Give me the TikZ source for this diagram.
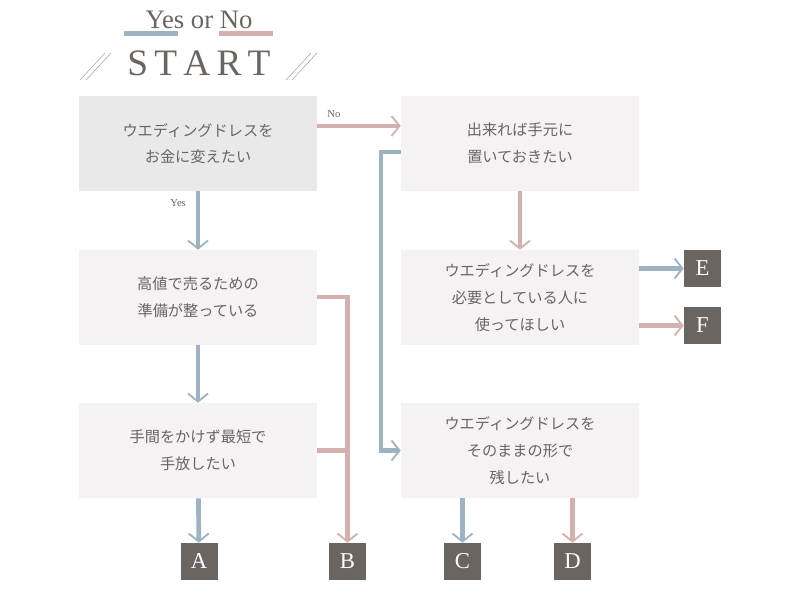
\documentclass[tikz,border=0pt]{standalone}
\usepackage{fontspec}
\setmainfont{Liberation Serif}
\newfontfamily\jpfont{Noto Sans CJK JP}[Scale=0.95]
\usetikzlibrary{arrows.meta}
\definecolor{qblue}{HTML}{9EB3C2}
\definecolor{qpink}{HTML}{D4B0AE}
\definecolor{qtext}{HTML}{6B6561}
\definecolor{qlight}{HTML}{F4F2F2}
\definecolor{qgrey}{HTML}{E9E9E9}
\begin{document}
\begin{tikzpicture}[x=0.75pt,y=-0.75pt,
  qbox/.style={fill=qlight, minimum width=178.5pt, minimum height=71.25pt, align=center, text=qtext, font=\jpfont\fontsize{12}{20}\selectfont},
  ans/.style={fill=qtext, text=white, minimum size=27.75pt, inner sep=0pt, font=\fontsize{17}{17}\selectfont},
  yesline/.style={draw=qblue, line width=3.5pt, -{Straight Barb[line width=1.4pt, length=6pt, width=15pt]}},
  noline/.style={draw=qpink, line width=3.5pt, -{Straight Barb[line width=1.4pt, length=6pt, width=15pt]}},
  lbl/.style={text=qtext, font=\footnotesize}]
\useasboundingbox (0,0) rectangle (800,600);

% title
\fill[qblue] (124,31) rectangle (178,36);
\fill[qpink] (219,31) rectangle (273,36);
\node[text=qtext, font=\fontsize{20}{20}\selectfont] (title) at (199,20) {Yes or No};
\node[text=qtext, font=\fontsize{28}{28}\selectfont] (start) at (199,63) {S\,T\,A\,R\,T};
\draw[qtext!60, thin] (80,80) -- (105,53) (86,80) -- (111,53);
\draw[qtext!60, thin] (286,80) -- (311,53) (292,80) -- (317,53);

% questions
\node[qbox, fill=qgrey] (q1) at (198,143.5) {ウエディングドレスを\\お金に変えたい};
\node[qbox] (q2) at (198,297.5) {高値で売るための\\準備が整っている};
\node[qbox] (q3) at (198,450.5) {手間をかけず最短で\\手放したい};
\node[qbox] (r1) at (520,143.5) {出来れば手元に\\置いておきたい};
\node[qbox] (r2) at (520,297.5) {ウエディングドレスを\\必要としている人に\\使ってほしい};
\node[qbox] (r3) at (520,450.5) {ウエディングドレスを\\そのままの形で\\残したい};

% answers
\node[ans] (A) at (199,561.5) {A};
\node[ans] (B) at (347.5,561.5) {B};
\node[ans] (C) at (462.5,561.5) {C};
\node[ans] (D) at (572.5,561.5) {D};
\node[ans] (E) at (702.5,268.5) {E};
\node[ans] (F) at (702.5,325.5) {F};

% connectors
\draw[yesline] (q1.south) -- (q2.north) node[lbl, pos=0.2, left=4pt] {Yes};
\draw[noline] (q1.east |- 0,126) -- (r1.west |- 0,126) node[lbl, pos=0.2, above=1pt] {No};
\draw[yesline] (q2) -- (q3);
\draw[yesline] (q3) -- (A);
\draw[noline] (q2.east |- 0,297) -| (B.north);
\draw[draw=qpink, line width=3.5pt] (q3.east) -- (B.north |- q3.east);
\draw[yesline, line join=miter] (r1.west |- 0,152) -- (381,152) |- (r3.west);
\draw[noline] (r1) -- (r2);
\draw[yesline] (r2.east |- E) -- (E);
\draw[noline] (r2.east |- F) -- (F);
\draw[yesline] (r3.south -| C) -- (C);
\draw[noline] (r3.south -| D) -- (D);
\end{tikzpicture}
\end{document}
